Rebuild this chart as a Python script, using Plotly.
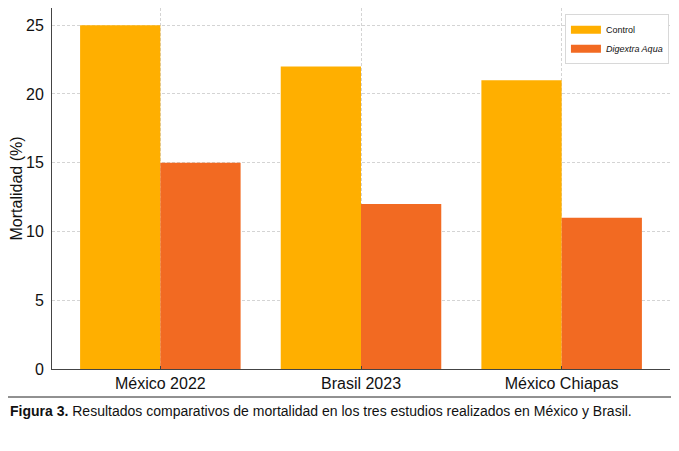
import plotly.graph_objects as go

estudios = ['México 2022', 'Brasil 2023', 'México Chiapas']
control = [25, 22, 21]
digextra = [15, 12, 11]
y_ticks = [0, 5, 10, 15, 20, 25]

color_control = '#FFAF00'
color_digextra = '#F26A22'

fig = go.Figure()

fig.add_trace(go.Bar(
    x=estudios, y=control, name='Control', showlegend=False,
    marker=dict(color=color_control, line_width=0)
))
fig.add_trace(go.Bar(
    x=estudios, y=digextra, name='Digextra Aqua', showlegend=False,
    marker=dict(color=color_digextra, line_width=0)
))

# entradas de leyenda con muestra rectangular
fig.add_trace(go.Scatter(x=[None], y=[None], mode='lines', name='Control',
                         line=dict(color=color_control, width=8)))
fig.add_trace(go.Scatter(x=[None], y=[None], mode='lines', name='<i>Digextra Aqua</i>',
                         line=dict(color=color_digextra, width=8)))

# linea sobre el pie de figura
fig.add_shape(type='line', xref='paper', yref='paper',
              x0=-0.072, x1=1.011, y0=-0.0776, y1=-0.0776,
              line=dict(color='#222222', width=1))

fig.add_annotation(
    text='<b>Figura 3.</b> Resultados comparativos de mortalidad en los tres estudios realizados en México y Brasil.',
    xref='paper', yref='paper', x=-0.072, y=-0.116,
    xanchor='left', yanchor='middle', showarrow=False,
    font=dict(family='Liberation Sans, Arial, sans-serif', size=14, color='#111111')
)

fig.update_layout(
    width=671, height=443,
    margin=dict(l=44, r=9, t=0, b=82),
    plot_bgcolor='white', paper_bgcolor='white',
    barmode='group', bargap=0.2, bargroupgap=0,
    font=dict(family='Liberation Sans, Arial, sans-serif', size=16, color='#111111'),
    legend=dict(
        x=0.83, y=0.983, xanchor='left', yanchor='top',
        bgcolor='white', bordercolor='#d8d8d8', borderwidth=1,
        font=dict(size=9), itemwidth=30
    ),
    xaxis=dict(
        range=[-0.54, 2.54],
        showgrid=True, gridcolor='#d4d4d4', griddash='3px,2px', gridwidth=1,
        showline=True, linecolor='#444444', linewidth=1,
        ticks='inside', ticklen=3, tickcolor='#444444', tickfont=dict(size=16)
    ),
    yaxis=dict(
        title=dict(text='Mortalidad (%)', font=dict(size=16), standoff=8),
        range=[0, 26.25], tickvals=y_ticks,
        showgrid=True, gridcolor='#d4d4d4', griddash='3px,2px', gridwidth=1,
        zeroline=False,
        showline=True, linecolor='#444444', linewidth=1,
        ticks='', ticklabelstandoff=4, tickfont=dict(size=16)
    )
)

fig.write_html('out.html')
